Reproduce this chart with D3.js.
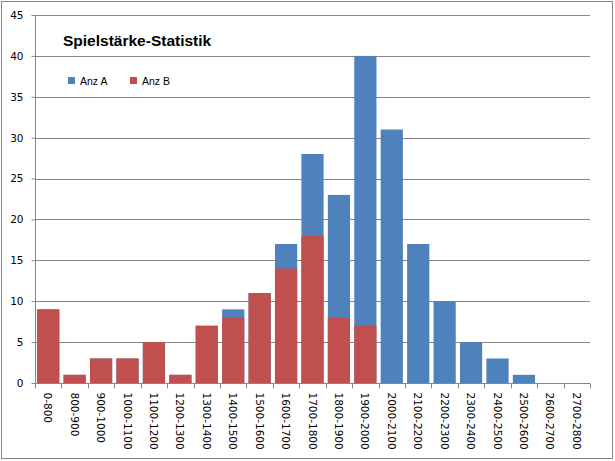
<!DOCTYPE html>
<html>
<head>
<meta charset="utf-8">
<script src="https://cdn.jsdelivr.net/npm/d3@7"></script>
<style>
  body { margin: 0; background: #fff; }
  .ticklabel { font-family: "DejaVu Sans", Verdana, sans-serif; font-size: 10.5px; fill: #000; }
  .title { font-family: "Liberation Sans", Arial, sans-serif; font-weight: bold; font-size: 15.5px; }
  .legendlabel { font-family: "Liberation Sans", Arial, sans-serif; font-size: 10.5px; }
</style>
</head>
<body>
<div id="chart"></div>
<script>
// categories (Elo ranges)
let categories = ["0-800","800-900","900-1000","1000-1100","1100-1200","1200-1300","1300-1400",
  "1400-1500","1500-1600","1600-1700","1700-1800","1800-1900","1900-2000","2000-2100",
  "2100-2200","2200-2300","2300-2400","2400-2500","2500-2600","2600-2700","2700-2800"];
// series values (overlapping columns, B drawn in front of A)
let anzA = [9,1,3,3,5,1,7,9,11,17,28,23,40,31,17,10,5,3,1,0,0];
let anzB = [9,1,3,3,5,1,7,8,11,14,18,8,7,0,0,0,0,0,0,0,0];
let yTicks = [0,5,10,15,20,25,30,35,40,45];
let seriesNames = ["Anz A","Anz B"];
let colors = ["#4F81BD","#C0504D"];

function generateChart(id){
    let width = 615, height = 461;
    let left = 35, right = 590, top = 15, bottom = 383;

    let svg = d3.select(id)
            .append("svg")
            .attr("width", width)
            .attr("height", height);

    svg.append("rect")
      .attr("x",1.5).attr("y",1.5)
      .attr("width",width-4).attr("height",height-4)
      .attr("fill","#fff")
      .attr("stroke","#868686")
      .attr("stroke-width",1);

    let x = d3.scaleBand()
      .domain(categories)
      .range([left,right])
      .paddingInner(0.16)
      .paddingOuter(0.08);

    let y = d3.scaleLinear()
      .domain([0,45])
      .range([bottom,top]);

    // gridlines
    svg.selectAll(".grid")
      .data(yTicks.filter(function(d){ return d>0; }))
    .enter().append("line")
      .attr("x1",left)
      .attr("x2",right)
      .attr("y1",function(d){ return Math.round(y(d))+0.5; })
      .attr("y2",function(d){ return Math.round(y(d))+0.5; })
      .attr("stroke","#868686")
      .attr("stroke-width",1);

    let data = categories.map(function(c,i){ return {cat:c, a:anzA[i], b:anzB[i]}; });

    svg.selectAll(".barA")
      .data(data)
    .enter().append("rect")
      .attr("x",function(d){ return x(d.cat); })
      .attr("width",x.bandwidth())
      .attr("y",function(d){ return y(d.a); })
      .attr("height",function(d){ return y(0)-y(d.a); })
      .attr("fill",colors[0]);

    svg.selectAll(".barB")
      .data(data)
    .enter().append("rect")
      .attr("x",function(d){ return x(d.cat); })
      .attr("width",x.bandwidth())
      .attr("y",function(d){ return y(d.b); })
      .attr("height",function(d){ return y(0)-y(d.b); })
      .attr("fill",colors[1]);

    // y axis
    let yAxis = d3.axisLeft(y).tickValues(yTicks).tickSize(4).tickPadding(5);
    let gy = svg.append("g")
      .attr("transform","translate("+(left+0.5)+",0)")
      .call(yAxis);
    gy.selectAll("line").attr("stroke","#868686");
    gy.select(".domain").attr("stroke","#868686").attr("d","M0,"+top+"V"+bottom);
    gy.selectAll("text").attr("class","ticklabel").attr("x",-12);
    gy.selectAll(".tick line").attr("transform",function(){ return ""; });

    // x axis
    let gx = svg.append("g")
      .attr("transform","translate(0,"+(bottom+0.5)+")");
    gx.append("line")
      .attr("x1",left).attr("x2",right)
      .attr("stroke","#868686");
    let step = x.step();
    let bounds = d3.range(categories.length+1).map(function(i){ return left + i*(right-left)/categories.length; });
    gx.selectAll(".xtick")
      .data(bounds)
    .enter().append("line")
      .attr("x1",function(d){ return Math.round(d)+0.5; })
      .attr("x2",function(d){ return Math.round(d)+0.5; })
      .attr("y1",0).attr("y2",5)
      .attr("stroke","#868686");
    gx.selectAll(".xlabel")
      .data(categories)
    .enter().append("text")
      .attr("class","ticklabel")
      .attr("transform",function(d){ return "translate("+(x(d)+x.bandwidth()/2-4)+",9) rotate(90)"; })
      .attr("text-anchor","start")
      .text(function(d){ return d; });

    // title
    svg.append("text")
      .attr("class","title")
      .attr("x",63)
      .attr("y",46)
      .text("Spielstärke-Statistik");

    // legend
    let legend = svg.selectAll(".legend")
      .data(seriesNames)
    .enter().append("g")
      .attr("transform",function(d,i){ return "translate("+(68+i*62)+",77)"; });
    legend.append("rect")
      .attr("width",7).attr("height",7)
      .attr("fill",function(d,i){ return colors[i]; });
    legend.append("text")
      .attr("class","legendlabel")
      .attr("x",12).attr("y",7.5)
      .text(function(d){ return d; });
}

generateChart("#chart");
</script>
</body>
</html>
